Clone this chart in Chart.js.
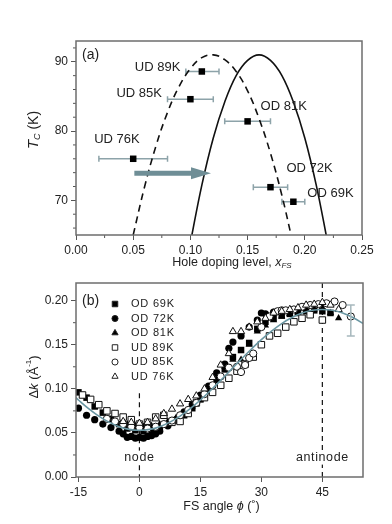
<!DOCTYPE html>
<html>
<head>
<meta charset="utf-8">
<script src="https://cdn.jsdelivr.net/npm/chart.js@4.4.0/dist/chart.umd.min.js"></script>
<style>
  html, body { margin: 0; padding: 0; background: #fff; }
  #wrap { position: relative; width: 392px; height: 524px; }
  canvas { position: absolute; left: 0; }
  #chartA { top: 0; }
  #chartB { top: 270px; }
</style>
</head>
<body>
<div id="wrap">
  <canvas id="chartA" width="392" height="280"></canvas>
  <canvas id="chartB" width="392" height="254"></canvas>
</div>
<script>
"use strict"

// ---------- panel (a): Tc vs hole doping ----------
const sampleNames = ["UD 89K", "UD 85K", "OD 81K", "UD 76K", "OD 72K", "OD 69K"];
const dopingLevel = [0.110, 0.100, 0.150, 0.050, 0.170, 0.190];
const dopingLow   = [0.096, 0.080, 0.130, 0.020, 0.155, 0.180];
const dopingHigh  = [0.125, 0.120, 0.170, 0.080, 0.185, 0.200];
const tcValues    = [88.6, 84.6, 81.4, 76.0, 71.9, 69.8];

// solid dome (x_FS scale) and dashed dome
const solidX  = [0.10, 0.11, 0.12, 0.13, 0.14, 0.15, 0.16, 0.17, 0.18, 0.19, 0.20, 0.21, 0.22];
const solidTc = [63.9, 72.2, 79.0, 84.2, 88.0, 90.2, 91.0, 90.2, 88.0, 84.2, 79.0, 72.2, 63.9];
const dashX   = [0.05, 0.06, 0.07, 0.08, 0.09, 0.10, 0.11, 0.12, 0.13, 0.14, 0.15, 0.16, 0.17, 0.18, 0.19];
const dashTc  = [65.0, 72.0, 77.9, 82.7, 86.4, 89.0, 90.6, 91.0, 90.3, 88.6, 85.8, 81.8, 76.8, 70.7, 63.5];

const arrowX  = [0.051, 0.118];
const arrowTc = 73.9;

const xTicksA = [0, 0.05, 0.10, 0.15, 0.20, 0.25];
const yTicksA = [70, 80, 90];
const xMinorA = [0.025, 0.075, 0.125, 0.175, 0.225];
const yMinorA = [66, 68, 72, 74, 76, 78, 82, 84, 86, 88, 92];

// ---------- panel (b): delta k vs FS angle ----------
const seriesNames = ["OD 69K", "OD 72K", "OD 81K", "UD 89K", "UD 85K", "UD 76K"];

const od69Phi = [-15, -13, -11, -9, -7, -5, -3, -1, 1, 3, 5, 7, 9, 11, 13, 15, 17, 19, 21, 23, 25, 27, 29, 31, 33, 35, 37, 39, 41, 43, 45, 47];
const od69Dk  = [0.096, 0.090, 0.080, 0.073, 0.066, 0.060, 0.055, 0.053, 0.052, 0.053, 0.056, 0.060, 0.064, 0.070, 0.078, 0.088, 0.098, 0.110, 0.122, 0.136, 0.144, 0.152, 0.168, 0.176, 0.180, 0.183, 0.185, 0.186, 0.188, 0.189, 0.188, 0.186];

const od72Phi = [-15, -13, -11, -9, -7, -5, -4, -3, -2, -1, 0, 1, 2, 3, 4, 5, 7, 9, 11, 13, 15, 17, 19, 21, 22, 23, 25, 27, 29, 30, 31, 33, 35];
const od72Dk  = [0.078, 0.070, 0.065, 0.060, 0.056, 0.052, 0.049, 0.045, 0.046, 0.044, 0.045, 0.044, 0.046, 0.047, 0.049, 0.052, 0.058, 0.065, 0.074, 0.082, 0.093, 0.103, 0.118, 0.128, 0.146, 0.153, 0.160, 0.170, 0.178, 0.186, 0.185, 0.187, 0.188];

const od81Phi = [-3, -1, 1, 3, 5, 7, 9, 11, 13, 15, 17, 19, 21, 23, 25, 26, 27, 29, 31, 33, 35, 37, 39, 41, 43, 45, 47, 49];
const od81Dk  = [0.060, 0.058, 0.057, 0.058, 0.060, 0.063, 0.067, 0.072, 0.080, 0.088, 0.100, 0.112, 0.125, 0.133, 0.133, 0.128, 0.150, 0.165, 0.172, 0.178, 0.182, 0.185, 0.187, 0.189, 0.190, 0.192, 0.186, 0.180];

const ud89Phi = [-14, -12, -10, -8, -6, -4, -2, 0, 2, 4, 6, 8, 10, 12, 14, 16, 18, 20, 22, 24, 26, 28, 30, 32, 34, 36, 38, 40, 42, 45];
const ud89Dk  = [0.093, 0.088, 0.082, 0.075, 0.072, 0.068, 0.065, 0.060, 0.062, 0.068, 0.070, 0.062, 0.063, 0.072, 0.084, 0.090, 0.096, 0.104, 0.112, 0.120, 0.128, 0.136, 0.150, 0.160, 0.163, 0.170, 0.176, 0.180, 0.184, 0.178];

const ud85Phi = [-8, -6, -4, -2, 0, 2, 4, 6, 8, 10, 12, 14, 16, 18, 20, 22, 24, 25, 26, 27, 28, 30, 32, 34, 35, 36, 38, 40, 42, 44, 46, 48, 50, 52];
const ud85Dk  = [0.066, 0.063, 0.060, 0.057, 0.056, 0.055, 0.057, 0.060, 0.064, 0.070, 0.076, 0.084, 0.094, 0.104, 0.114, 0.124, 0.125, 0.119, 0.127, 0.135, 0.140, 0.170, 0.182, 0.188, 0.189, 0.189, 0.190, 0.193, 0.195, 0.196, 0.197, 0.199, 0.195, 0.182];

const ud76Phi = [-4, -2, 0, 2, 4, 6, 8, 10, 12, 14, 16, 18, 20, 22, 23, 25, 27, 29, 31, 33, 35, 37, 39, 41, 43, 45, 47, 49];
const ud76Dk  = [0.063, 0.062, 0.061, 0.062, 0.066, 0.072, 0.077, 0.083, 0.088, 0.092, 0.100, 0.113, 0.127, 0.140, 0.165, 0.165, 0.170, 0.176, 0.180, 0.186, 0.188, 0.190, 0.192, 0.195, 0.196, 0.198, 0.195, 0.190];

// guide curve
const fitPhi = [-16, -15, -12.5, -10, -7.5, -5, -2.5, 0, 2.5, 5, 7.5, 10, 12.5, 15, 17.5, 20, 22.5, 25, 27.5, 30, 32.5, 35, 37.5, 40, 42.5, 45, 47.5, 50, 52.5, 55, 56];
const fitDk  = [0.0915, 0.0873, 0.0775, 0.069, 0.0622, 0.0571, 0.054, 0.053, 0.054, 0.0571, 0.0622, 0.069, 0.0775, 0.0873, 0.0981, 0.1096, 0.1215, 0.1334, 0.1449, 0.1558, 0.1655, 0.174, 0.1808, 0.1859, 0.189, 0.19, 0.189, 0.1859, 0.1808, 0.174, 0.1708];

const errPhi = 52;
const errDk = [0.160, 0.195];

const markNames = ["node", "antinode"];
const markPhi = [0, 45];
const markTop = [0.095, 0.22];

const xTicksB = [-15, 0, 15, 30, 45];
const yTicksB = [0, 0.05, 0.10, 0.15, 0.20];
const yMinorB = [0.025, 0.075, 0.125, 0.175];

// ---------- helpers ----------
const FONT = "'Liberation Sans', Arial, sans-serif";
const TXT = "#222";
const TICK = "#555";

function pts(xs, ys) {
    return xs.map((v, i) => ({ x: v, y: Array.isArray(ys) ? ys[i] : ys }));
}

// draw a row of text pieces (for italics / sub- and superscripts)
function richText(ctx, parts, cx, cy) {
    let w = 0;
    parts.forEach(p => { ctx.font = p.f; w += ctx.measureText(p.t).width; });
    let x = cx - w / 2;
    ctx.textBaseline = "middle";
    ctx.textAlign = "left";
    parts.forEach(p => {
        ctx.font = p.f;
        ctx.fillText(p.t, x, cy + (p.dy || 0));
        x += ctx.measureText(p.t).width;
    });
}

const framePlugin = {
    id: "frame",
    afterDatasetsDraw(chart) {
        const { ctx, chartArea: a } = chart;
        ctx.save();
        ctx.strokeStyle = "#6d6d6d";
        ctx.lineWidth = 1.5;
        ctx.strokeRect(a.left, a.top, a.right - a.left, a.bottom - a.top);
        ctx.restore();
    }
};

function minorTicks(xVals, yVals) {
    return {
        id: "minorTicks",
        beforeDatasetsDraw(chart) {
            const { ctx, chartArea: a, scales } = chart;
            ctx.save();
            ctx.strokeStyle = TICK;
            ctx.lineWidth = 1;
            ctx.beginPath();
            xVals.forEach(v => {
                const px = scales.x.getPixelForValue(v);
                ctx.moveTo(px, a.bottom);
                ctx.lineTo(px, a.bottom + 3);
            });
            yVals.forEach(v => {
                const py = scales.y.getPixelForValue(v);
                ctx.moveTo(a.left - 3, py);
                ctx.lineTo(a.left, py);
            });
            ctx.stroke();
            ctx.restore();
        }
    };
}

function axisCommon(ticks, fmt, fixedSize, isX) {
    return {
        type: "linear",
        afterBuildTicks(scale) { scale.ticks = ticks.map(v => ({ value: v })); },
        afterFit(scale) { if (isX) scale.height = fixedSize; else scale.width = fixedSize; },
        ticks: {
            color: TXT,
            font: { family: FONT, size: 12 },
            padding: 3,
            autoSkip: false,
            maxRotation: 0,
            callback: fmt
        },
        grid: { drawOnChartArea: false, drawTicks: true, tickLength: 5, color: TICK, tickWidth: 1 },
        border: { display: false }
    };
}

// ---------- chart (a) ----------
const labelOffsets = [[-67, -4], [-74, -6], [13, -15], [-39, -19], [16, -19], [14, -8]];

const panelA = {
    id: "panelA",
    beforeDatasetsDraw(chart) {
        const { ctx, scales: { x, y } } = chart;
        ctx.save();
        ctx.strokeStyle = "#8da3a9";
        ctx.lineWidth = 1.5;
        ctx.beginPath();
        dopingLevel.forEach((v, i) => {
            const py = y.getPixelForValue(tcValues[i]);
            const x0 = x.getPixelForValue(dopingLow[i]);
            const x1 = x.getPixelForValue(dopingHigh[i]);
            ctx.moveTo(x0, py); ctx.lineTo(x1, py);
            ctx.moveTo(x0, py - 3); ctx.lineTo(x0, py + 3);
            ctx.moveTo(x1, py - 3); ctx.lineTo(x1, py + 3);
        });
        ctx.stroke();
        ctx.restore();
    },
    afterDatasetsDraw(chart) {
        const { ctx, scales: { x, y } } = chart;
        ctx.save();
        // arrow head
        const tipX = x.getPixelForValue(arrowX[1]);
        const py = y.getPixelForValue(arrowTc);
        ctx.fillStyle = "#6f8e96";
        ctx.beginPath();
        ctx.moveTo(tipX, py);
        ctx.lineTo(tipX - 20, py - 6);
        ctx.lineTo(tipX - 20, py + 6);
        ctx.closePath();
        ctx.fill();
        // point labels
        ctx.fillStyle = TXT;
        ctx.font = "13px " + FONT;
        ctx.textAlign = "left";
        ctx.textBaseline = "middle";
        sampleNames.forEach((s, i) => {
            const px = x.getPixelForValue(dopingLevel[i]);
            const pyy = y.getPixelForValue(tcValues[i]);
            ctx.fillText(s, px + labelOffsets[i][0], pyy + labelOffsets[i][1]);
        });
        ctx.font = "14px " + FONT;
        ctx.fillText("(a)", chart.chartArea.left + 6, chart.chartArea.top + 14);
        ctx.restore();
    },
    afterDraw(chart) {
        const { ctx, chartArea: a } = chart;
        ctx.save();
        ctx.fillStyle = TXT;
        richText(ctx, [
            { t: "Hole doping level, ", f: "12.5px " + FONT },
            { t: "x", f: "italic 12.5px " + FONT },
            { t: "FS", f: "italic 8px " + FONT, dy: 3 }
        ], (a.left + a.right) / 2 + 13, 263);
        ctx.translate(34, (a.top + a.bottom) / 2 - 8);
        ctx.rotate(-Math.PI / 2);
        richText(ctx, [
            { t: "T", f: "italic 15px " + FONT },
            { t: "C", f: "italic 9px " + FONT, dy: 3 },
            { t: " (K)", f: "14px " + FONT }
        ], 0, 0);
        ctx.restore();
    }
};

new Chart(document.getElementById("chartA"), {
    type: "scatter",
    data: {
        datasets: [
            {
                data: pts(dopingLevel, tcValues),
                pointStyle: "rect", pointRadius: 4.6,
                backgroundColor: "#000", borderColor: "#000", borderWidth: 0
            },
            {
                data: pts(arrowX.slice(0, 1).concat([arrowX[1] - 0.012]), arrowTc),
                showLine: true, borderColor: "#6f8e96", borderWidth: 5, pointRadius: 0
            },
            {
                data: pts(solidX, solidTc),
                showLine: true, borderColor: "#111", borderWidth: 1.6, pointRadius: 0, tension: 0.4
            },
            {
                data: pts(dashX, dashTc),
                showLine: true, borderColor: "#111", borderWidth: 1.6, pointRadius: 0, tension: 0.4,
                borderDash: [7, 5]
            }
        ]
    },
    options: {
        responsive: false,
        animation: false,
        devicePixelRatio: 1,
        layout: { padding: { top: 41, right: 30, left: 0, bottom: 0 } },
        plugins: { legend: { display: false }, tooltip: { enabled: false } },
        scales: {
            x: Object.assign(axisCommon(xTicksA, v => v.toFixed(2), 45, true), { min: 0, max: 0.25 }),
            y: Object.assign(axisCommon(yTicksA, v => String(v), 76, false), { min: 65, max: 93 })
        }
    },
    plugins: [minorTicks(xMinorA, yMinorA), framePlugin, panelA]
});

// ---------- chart (b) ----------
const markerStyles = [
    { pointStyle: "rect", r: 4.6, fill: "#000" },
    { pointStyle: "circle", r: 3.6, fill: "#000" },
    { pointStyle: "triangle", r: 4.2, fill: "#000" },
    { pointStyle: "rect", r: 4.6, fill: "#fff" },
    { pointStyle: "circle", r: 3.6, fill: "#fff" },
    { pointStyle: "triangle", r: 4.2, fill: "#fff" }
];

const panelB = {
    id: "panelB",
    beforeDatasetsDraw(chart) {
        const { ctx, chartArea: a, scales: { x, y } } = chart;
        ctx.save();
        ctx.strokeStyle = "#111";
        ctx.lineWidth = 1.2;
        ctx.setLineDash([5, 4]);
        ctx.beginPath();
        markPhi.forEach((p, i) => {
            const px = x.getPixelForValue(p);
            ctx.moveTo(px, Math.max(a.top, y.getPixelForValue(markTop[i])));
            ctx.lineTo(px, a.bottom);
        });
        ctx.stroke();
        ctx.setLineDash([]);
        // text on white so the dashes break
        ctx.font = "12.5px " + FONT;
        ctx.textAlign = "center";
        ctx.textBaseline = "middle";
        if ("letterSpacing" in ctx) ctx.letterSpacing = "0.6px";
        markNames.forEach((s, i) => {
            const px = x.getPixelForValue(markPhi[i]);
            const py = y.getPixelForValue(0.022);
            const w = ctx.measureText(s).width;
            ctx.fillStyle = "#fff";
            ctx.fillRect(px - w / 2 - 1, py - 7, w + 2, 14);
            ctx.fillStyle = TXT;
            ctx.fillText(s, px, py);
        });
        ctx.restore();
    },
    afterDatasetsDraw(chart) {
        const { ctx, chartArea: a, scales: { x, y } } = chart;
        ctx.save();
        // error bar
        const ex = x.getPixelForValue(errPhi);
        const e0 = y.getPixelForValue(errDk[0]);
        const e1 = y.getPixelForValue(errDk[1]);
        ctx.strokeStyle = "#a7b8bd";
        ctx.lineWidth = 1.5;
        ctx.beginPath();
        ctx.moveTo(ex, e0); ctx.lineTo(ex, e1);
        ctx.moveTo(ex - 4, e0); ctx.lineTo(ex + 4, e0);
        ctx.moveTo(ex - 4, e1); ctx.lineTo(ex + 4, e1);
        ctx.stroke();
        // legend
        const lx = a.left + 39;
        const ly0 = a.top + 21;
        ctx.font = "11px " + FONT;
        ctx.textAlign = "left";
        ctx.textBaseline = "middle";
        if ("letterSpacing" in ctx) ctx.letterSpacing = "0.8px";
        seriesNames.forEach((s, i) => {
            const m = markerStyles[i];
            const ly = ly0 + i * 14.5;
            ctx.fillStyle = m.fill;
            ctx.strokeStyle = "#222";
            ctx.lineWidth = 1;
            Chart.helpers.drawPoint(ctx, { pointStyle: m.pointStyle, radius: m.r * 0.85, borderWidth: 1 }, lx, ly);
            ctx.fillStyle = TXT;
            ctx.fillText(s, lx + 16, ly);
        });
        if ("letterSpacing" in ctx) ctx.letterSpacing = "0px";
        ctx.font = "14px " + FONT;
        ctx.fillStyle = TXT;
        ctx.fillText("(b)", a.left + 6, a.top + 18);
        ctx.restore();
    },
    afterDraw(chart) {
        const { ctx, chartArea: a } = chart;
        ctx.save();
        ctx.fillStyle = TXT;
        richText(ctx, [
            { t: "FS angle ", f: "12.5px " + FONT },
            { t: "\u03d5", f: "italic 12.5px " + FONT },
            { t: " (\u02da)", f: "12.5px " + FONT }
        ], (a.left + a.right) / 2 + 2, 237);
        ctx.translate(34, (a.top + a.bottom) / 2 - 3);
        ctx.rotate(-Math.PI / 2);
        richText(ctx, [
            { t: "\u0394", f: "13px " + FONT },
            { t: "k", f: "italic 13px " + FONT },
            { t: " (\u00c5", f: "13px " + FONT },
            { t: "-1", f: "8px " + FONT, dy: -5 },
            { t: ")", f: "13px " + FONT }
        ], 0, 0);
        ctx.restore();
    }
};

const seriesPhi = [od69Phi, od72Phi, od81Phi, ud89Phi, ud85Phi, ud76Phi];
const seriesDk  = [od69Dk, od72Dk, od81Dk, ud89Dk, ud85Dk, ud76Dk];

const bDatasets = [{
    data: pts(fitPhi, fitDk),
    showLine: true, borderColor: "#6a97a3", borderWidth: 1.6, pointRadius: 0, tension: 0.4
}];
// open symbols drawn above filled ones: earlier datasets are drawn on top
[5, 4, 3, 2, 1, 0].forEach(i => {
    const m = markerStyles[i];
    bDatasets.push({
        label: seriesNames[i],
        data: pts(seriesPhi[i], seriesDk[i]),
        pointStyle: m.pointStyle,
        pointRadius: m.r,
        backgroundColor: m.fill,
        borderColor: "#111",
        borderWidth: m.fill === "#fff" ? 1 : 0
    });
});

new Chart(document.getElementById("chartB"), {
    type: "scatter",
    data: { datasets: bDatasets },
    options: {
        responsive: false,
        animation: false,
        devicePixelRatio: 1,
        layout: { padding: { top: 13, right: 29, left: 0, bottom: 0 } },
        plugins: { legend: { display: false }, tooltip: { enabled: false } },
        scales: {
            x: Object.assign(axisCommon(xTicksB, v => String(v), 47, true), { min: -15.6, max: 55 }),
            y: Object.assign(axisCommon(yTicksB, v => v.toFixed(2), 76, false), { min: 0, max: 0.22 })
        }
    },
    plugins: [minorTicks([], yMinorB), framePlugin, panelB]
});
</script>
</body>
</html>
